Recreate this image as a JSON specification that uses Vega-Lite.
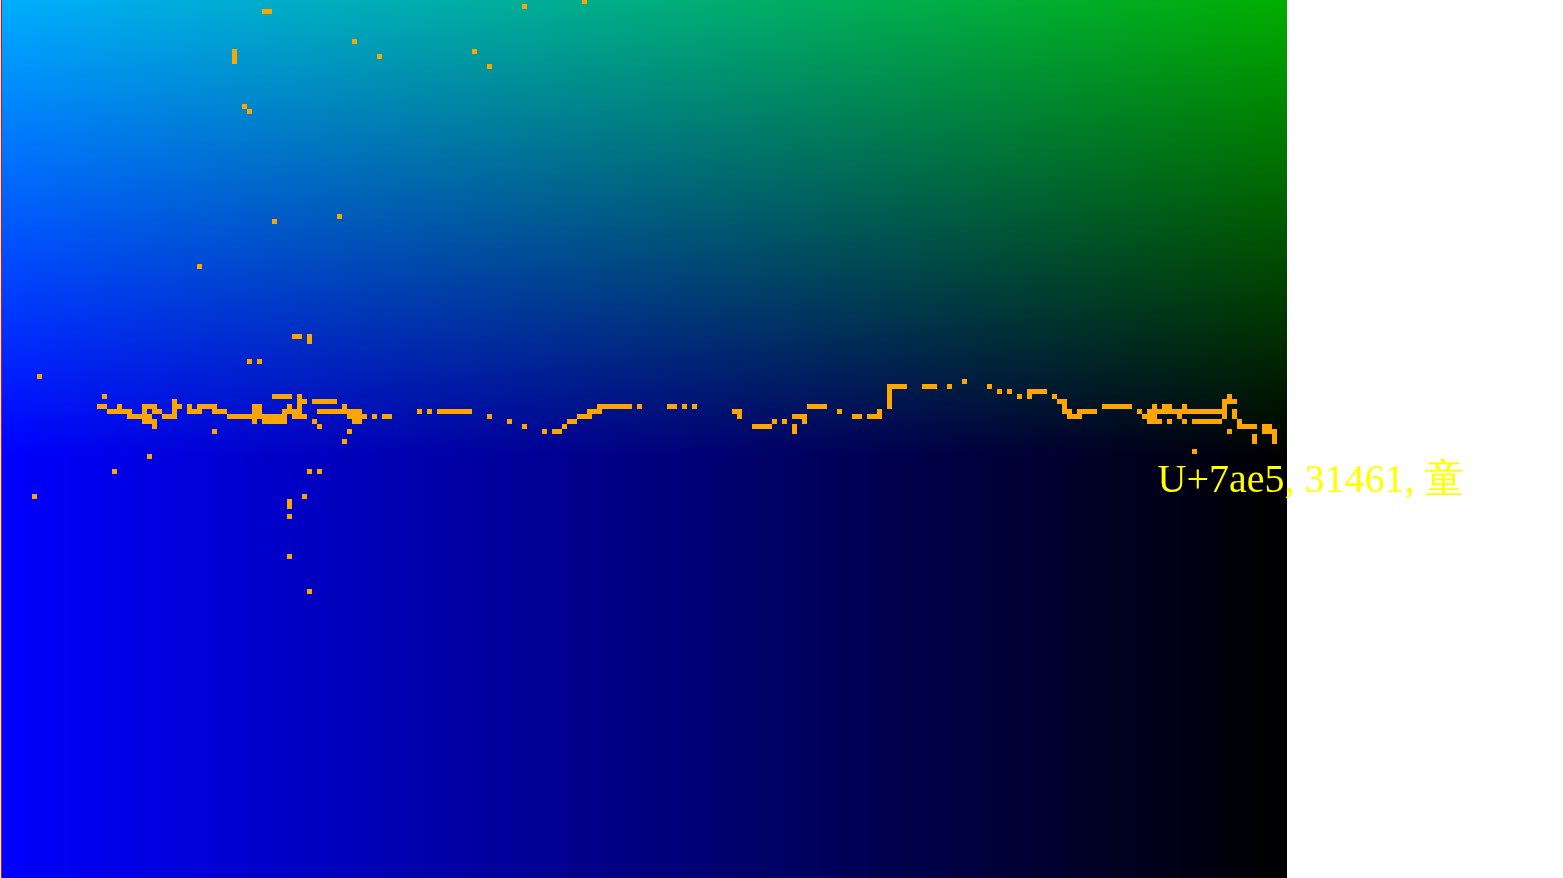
{
  "$schema": "https://vega.github.io/schema/vega-lite/v6.json",
  "width": 1285,
  "height": 878,
  "autosize": {"type": "none"},
  "padding": {"left": 2, "top": 0, "right": 276, "bottom": 0},
  "background": "white",
  "config": {"view": {"stroke": null}},
  "datasets": {
    "cells": [
      {"c":116,"r":0},{"c":104,"r":1},{"c":52,"r":2},{"c":53,"r":2},{"c":70,"r":8},
      {"c":46,"r":10},{"c":94,"r":10},{"c":46,"r":11},{"c":75,"r":11},{"c":46,"r":12},{"c":97,"r":13},
      {"c":48,"r":21},{"c":49,"r":22},{"c":67,"r":43},{"c":54,"r":44},{"c":39,"r":53},
      {"c":58,"r":67},{"c":59,"r":67},{"c":61,"r":67},{"c":61,"r":68},
      {"c":49,"r":72},{"c":51,"r":72},{"c":7,"r":75},{"c":192,"r":76},
      {"c":177,"r":77},{"c":178,"r":77},{"c":179,"r":77},{"c":180,"r":77},{"c":184,"r":77},{"c":185,"r":77},{"c":186,"r":77},{"c":189,"r":77},{"c":197,"r":77},
      {"c":177,"r":78},{"c":199,"r":78},{"c":201,"r":78},{"c":205,"r":78},{"c":206,"r":78},{"c":207,"r":78},{"c":208,"r":78},
      {"c":20,"r":79},{"c":54,"r":79},{"c":55,"r":79},{"c":56,"r":79},{"c":57,"r":79},{"c":59,"r":79},{"c":177,"r":79},{"c":203,"r":79},{"c":205,"r":79},{"c":210,"r":79},{"c":245,"r":79},
      {"c":34,"r":80},{"c":59,"r":80},{"c":60,"r":80},{"c":62,"r":80},{"c":63,"r":80},{"c":64,"r":80},{"c":65,"r":80},{"c":66,"r":80},{"c":177,"r":80},{"c":211,"r":80},{"c":212,"r":80},{"c":244,"r":80},{"c":245,"r":80},{"c":246,"r":80},
      {"c":19,"r":81},{"c":20,"r":81},{"c":23,"r":81},{"c":28,"r":81},{"c":29,"r":81},{"c":30,"r":81},{"c":34,"r":81},{"c":35,"r":81},{"c":37,"r":81},{"c":39,"r":81},{"c":40,"r":81},{"c":41,"r":81},{"c":42,"r":81},{"c":50,"r":81},{"c":51,"r":81},{"c":57,"r":81},{"c":59,"r":81},{"c":68,"r":81},
      {"c":119,"r":81},{"c":120,"r":81},{"c":121,"r":81},{"c":122,"r":81},{"c":123,"r":81},{"c":124,"r":81},{"c":125,"r":81},{"c":127,"r":81},{"c":133,"r":81},{"c":134,"r":81},{"c":136,"r":81},{"c":138,"r":81},
      {"c":161,"r":81},{"c":162,"r":81},{"c":163,"r":81},{"c":164,"r":81},{"c":177,"r":81},{"c":212,"r":81},{"c":220,"r":81},{"c":221,"r":81},{"c":222,"r":81},{"c":223,"r":81},{"c":224,"r":81},{"c":225,"r":81},{"c":230,"r":81},{"c":232,"r":81},{"c":233,"r":81},{"c":236,"r":81},{"c":244,"r":81},
      {"c":21,"r":82},{"c":22,"r":82},{"c":23,"r":82},{"c":24,"r":82},{"c":25,"r":82},{"c":28,"r":82},{"c":30,"r":82},{"c":31,"r":82},{"c":34,"r":82},{"c":37,"r":82},{"c":38,"r":82},{"c":39,"r":82},{"c":42,"r":82},{"c":43,"r":82},{"c":44,"r":82},{"c":50,"r":82},{"c":51,"r":82},
      {"c":56,"r":82},{"c":57,"r":82},{"c":58,"r":82},{"c":59,"r":82},{"c":63,"r":82},{"c":64,"r":82},{"c":65,"r":82},{"c":66,"r":82},{"c":67,"r":82},{"c":68,"r":82},{"c":69,"r":82},{"c":70,"r":82},{"c":71,"r":82},
      {"c":83,"r":82},{"c":85,"r":82},{"c":87,"r":82},{"c":88,"r":82},{"c":89,"r":82},{"c":90,"r":82},{"c":91,"r":82},{"c":92,"r":82},{"c":93,"r":82},{"c":117,"r":82},{"c":118,"r":82},{"c":119,"r":82},{"c":146,"r":82},{"c":147,"r":82},{"c":167,"r":82},{"c":175,"r":82},
      {"c":212,"r":82},{"c":213,"r":82},{"c":215,"r":82},{"c":216,"r":82},{"c":217,"r":82},{"c":218,"r":82},{"c":227,"r":82},
      {"c":229,"r":82},{"c":230,"r":82},{"c":231,"r":82},{"c":232,"r":82},{"c":233,"r":82},{"c":234,"r":82},{"c":235,"r":82},{"c":236,"r":82},{"c":237,"r":82},{"c":238,"r":82},{"c":239,"r":82},{"c":240,"r":82},{"c":241,"r":82},{"c":242,"r":82},{"c":243,"r":82},{"c":244,"r":82},{"c":246,"r":82},
      {"c":25,"r":83},{"c":26,"r":83},{"c":27,"r":83},{"c":28,"r":83},{"c":29,"r":83},{"c":32,"r":83},{"c":33,"r":83},{"c":34,"r":83},
      {"c":45,"r":83},{"c":46,"r":83},{"c":47,"r":83},{"c":48,"r":83},{"c":49,"r":83},{"c":50,"r":83},{"c":51,"r":83},{"c":52,"r":83},{"c":53,"r":83},{"c":54,"r":83},{"c":55,"r":83},{"c":56,"r":83},
      {"c":58,"r":83},{"c":59,"r":83},{"c":60,"r":83},{"c":69,"r":83},{"c":70,"r":83},{"c":71,"r":83},{"c":72,"r":83},{"c":74,"r":83},{"c":76,"r":83},{"c":77,"r":83},{"c":97,"r":83},
      {"c":115,"r":83},{"c":116,"r":83},{"c":117,"r":83},{"c":147,"r":83},{"c":158,"r":83},{"c":159,"r":83},{"c":160,"r":83},{"c":170,"r":83},{"c":171,"r":83},{"c":173,"r":83},{"c":174,"r":83},{"c":175,"r":83},
      {"c":213,"r":83},{"c":214,"r":83},{"c":215,"r":83},{"c":228,"r":83},{"c":229,"r":83},{"c":230,"r":83},{"c":235,"r":83},{"c":244,"r":83},{"c":246,"r":83},
      {"c":28,"r":84},{"c":29,"r":84},{"c":30,"r":84},{"c":50,"r":84},{"c":52,"r":84},{"c":53,"r":84},{"c":54,"r":84},{"c":55,"r":84},{"c":56,"r":84},{"c":62,"r":84},{"c":70,"r":84},{"c":71,"r":84},
      {"c":101,"r":84},{"c":113,"r":84},{"c":114,"r":84},{"c":154,"r":84},{"c":156,"r":84},{"c":160,"r":84},
      {"c":229,"r":84},{"c":230,"r":84},{"c":231,"r":84},{"c":233,"r":84},{"c":236,"r":84},{"c":238,"r":84},{"c":239,"r":84},{"c":240,"r":84},{"c":241,"r":84},{"c":242,"r":84},{"c":243,"r":84},{"c":247,"r":84},
      {"c":30,"r":85},{"c":63,"r":85},{"c":104,"r":85},{"c":112,"r":85},{"c":150,"r":85},{"c":151,"r":85},{"c":152,"r":85},{"c":153,"r":85},{"c":158,"r":85},{"c":247,"r":85},{"c":248,"r":85},{"c":249,"r":85},{"c":250,"r":85},{"c":252,"r":85},{"c":253,"r":85},
      {"c":42,"r":86},{"c":69,"r":86},{"c":108,"r":86},{"c":110,"r":86},{"c":111,"r":86},{"c":158,"r":86},{"c":245,"r":86},{"c":252,"r":86},{"c":253,"r":86},{"c":254,"r":86},
      {"c":250,"r":87},{"c":254,"r":87},{"c":68,"r":88},{"c":250,"r":88},{"c":254,"r":88},
      {"c":238,"r":90},{"c":29,"r":91},{"c":22,"r":94},{"c":61,"r":94},{"c":63,"r":94},
      {"c":6,"r":99},{"c":60,"r":99},{"c":57,"r":100},{"c":57,"r":101},{"c":57,"r":103},{"c":57,"r":111},{"c":61,"r":118}
    ],
    "label": [{"c": 230.6, "r": 98.1, "text": "U+7ae5, 31461, 童"}],
    "frame": [{"id": "plot"}]
  },
  "layer": [
    {
      "data": {"name": "frame"},
      "mark": {"type": "rect", "color": {"gradient": "linear", "x1": 0, "y1": 0, "x2": 1, "y2": 0, "stops": [{"offset": 0, "color": "#0000ff"}, {"offset": 1, "color": "#000000"}]}},
      "encoding": {
        "x": {"datum": -0.5, "type": "quantitative", "scale": {"domain": [-0.5, 256.5], "nice": false, "zero": false}, "axis": null},
        "x2": {"datum": 256.5},
        "y": {"datum": -0.3, "type": "quantitative", "scale": {"domain": [-0.3, 175.3], "nice": false, "zero": false, "reverse": true}, "axis": null},
        "y2": {"datum": 175.3}
      }
    },
    {
      "data": {"name": "frame"},
      "mark": {"type": "rect", "blend": "screen", "color": {"gradient": "linear", "x1": 0, "y1": 0, "x2": 0, "y2": 1, "stops": [{"offset": 0, "color": "#00ae00"}, {"offset": 0.52, "color": "#000000"}, {"offset": 1, "color": "#000000"}]}},
      "encoding": {
        "x": {"datum": -0.5, "type": "quantitative"},
        "x2": {"datum": 256.5},
        "y": {"datum": -0.3, "type": "quantitative"},
        "y2": {"datum": 175.3}
      }
    },
    {
      "data": {"name": "frame"},
      "mark": {"type": "rule", "color": "#ff0000", "strokeWidth": 1, "xOffset": -0.5},
      "encoding": {"x": {"datum": -0.5, "type": "quantitative"}}
    },
    {
      "data": {"name": "cells"},
      "mark": {"type": "square", "size": 25, "filled": true, "color": "#ffa500", "opacity": 1},
      "encoding": {
        "x": {"field": "c", "type": "quantitative"},
        "y": {"field": "r", "type": "quantitative"}
      }
    },
    {
      "data": {"name": "label"},
      "mark": {"type": "text", "font": "Liberation Serif", "fontSize": 40, "color": "#ffff00", "align": "left", "baseline": "alphabetic"},
      "encoding": {
        "x": {"field": "c", "type": "quantitative"},
        "y": {"field": "r", "type": "quantitative"},
        "text": {"field": "text"}
      }
    }
  ]
}
